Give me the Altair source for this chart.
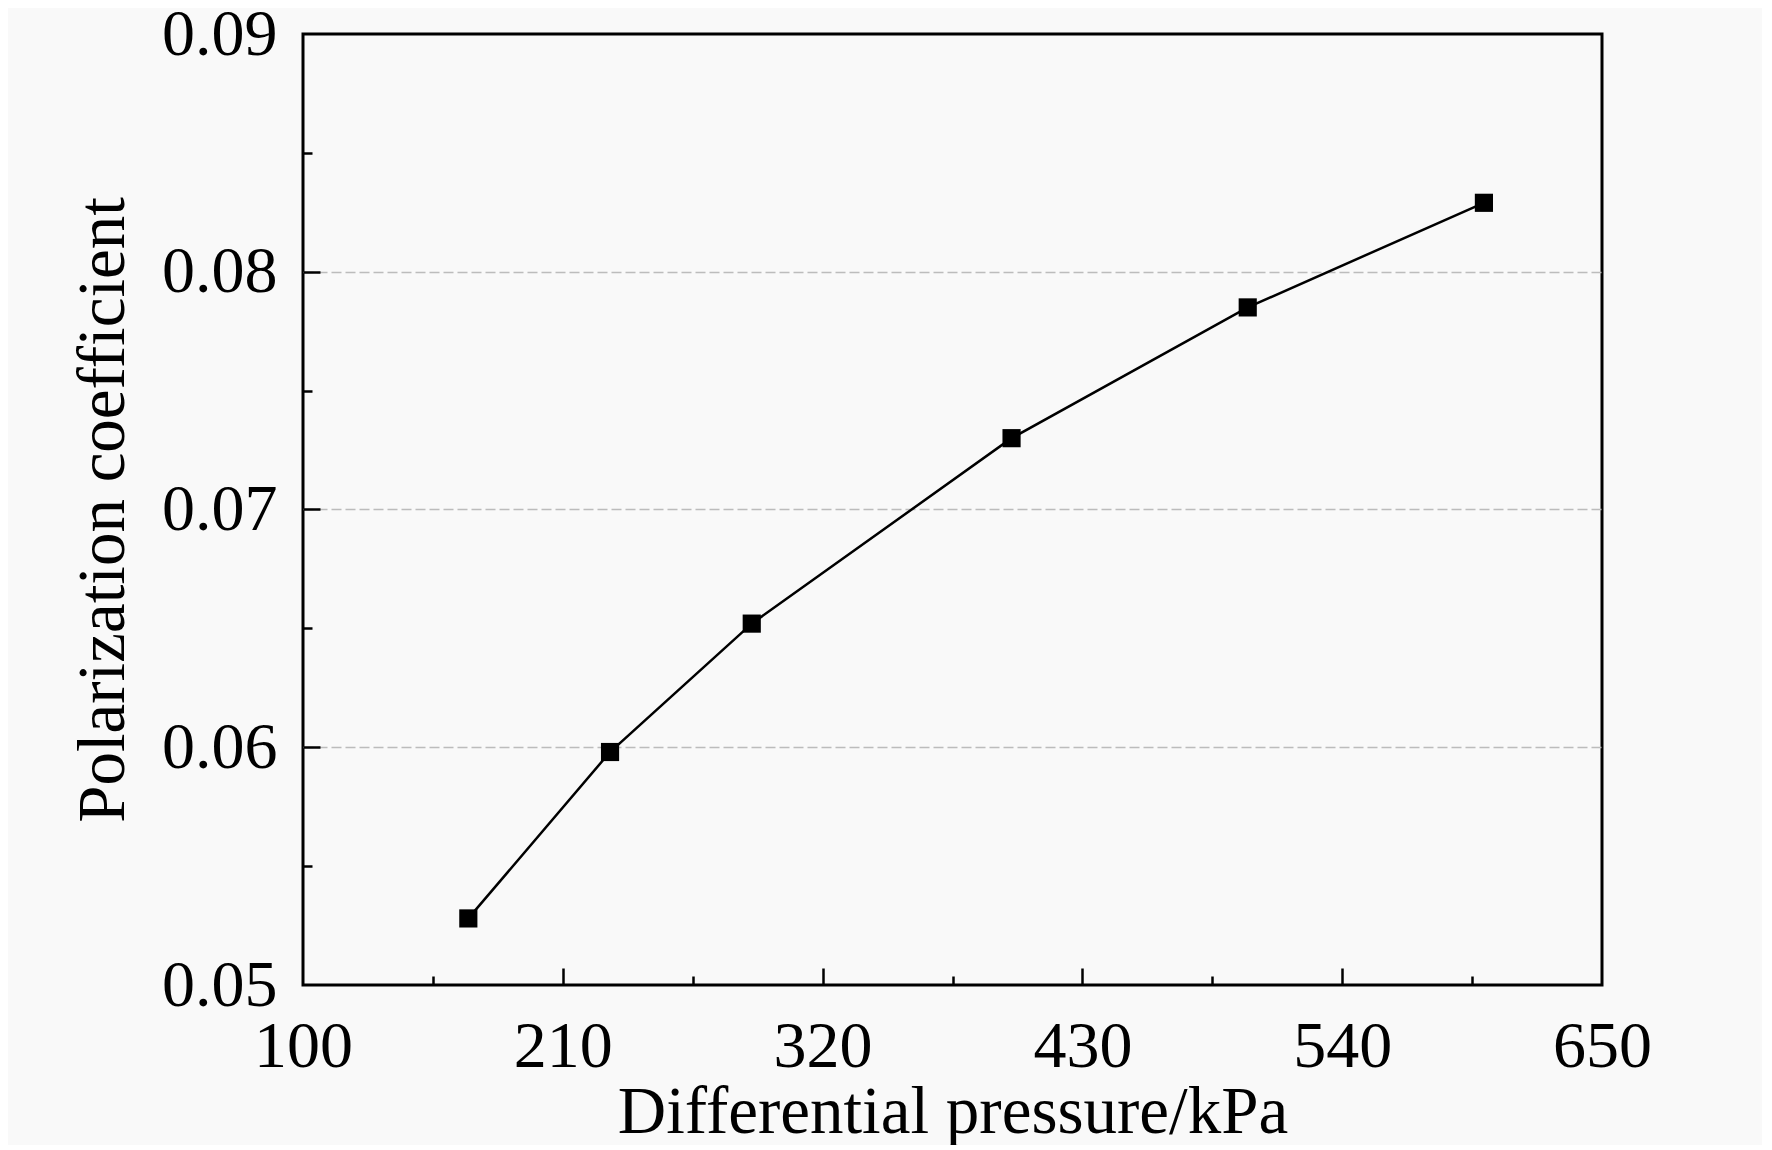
import altair as alt
import pandas as pd

# Data
pressure = [170, 230, 290, 400, 500, 600]
coef = [0.0528, 0.0598, 0.0652, 0.0730, 0.0785, 0.0829]

# Tick values
x_labels = [100, 210, 320, 430, 540, 650]
x_major = [210, 320, 430, 540]
x_minor = [155, 265, 375, 485, 595]
y_labels = [0.05, 0.06, 0.07, 0.08, 0.09]
y_major = [0.06, 0.07, 0.08]
y_minor = [0.055, 0.065, 0.075, 0.085]

df = pd.DataFrame({"p": pressure, "c": coef})

FONT = "Liberation Serif"
xs = alt.Scale(domain=[100, 650], nice=False, zero=False)
ys = alt.Scale(domain=[0.05, 0.09], nice=False, zero=False)

base = alt.Chart(df)

line = base.mark_line(color="black", strokeWidth=2.5).encode(
    x=alt.X("p:Q", scale=xs, title="Differential pressure/kPa",
            axis=alt.Axis(orient="bottom", values=x_labels, ticks=False, grid=False,
                          domain=False, labelFont=FONT, labelFontSize=66,
                          labelColor="black", labelPadding=29, labelFlush=False,
                          labelOverlap=False, titleFont=FONT, titleFontSize=67,
                          titleFontWeight="normal", titleColor="black",
                          titlePadding=0)),
    y=alt.Y("c:Q", scale=ys, title="Polarization coefficient",
            axis=alt.Axis(orient="left", values=y_labels, format=".2f", ticks=False,
                          grid=False, domain=False, labelFont=FONT, labelFontSize=66,
                          labelColor="black", labelPadding=26, labelFlush=False,
                          labelOverlap=False, titleFont=FONT, titleFontSize=67,
                          titleFontWeight="normal", titleColor="black",
                          titlePadding=24)),
)

points = base.mark_square(size=330, color="black", opacity=1).encode(
    x=alt.X("p:Q", scale=xs, title=None,
            axis=alt.Axis(orient="bottom", values=x_major, labels=False, domain=False,
                          grid=False, ticks=True, tickSize=17, tickWidth=2.5,
                          tickColor="black", offset=-17)),
    y=alt.Y("c:Q", scale=ys, title=None,
            axis=alt.Axis(orient="left", values=y_major, labels=False, domain=False,
                          grid=True, gridColor="#bcbcbc", gridDash=[10, 4],
                          gridWidth=1.5, ticks=True, tickSize=17, tickWidth=2.5,
                          tickColor="black", offset=-17)),
)

minor = base.mark_square(size=1, opacity=0).encode(
    x=alt.X("p:Q", scale=xs, title=None,
            axis=alt.Axis(orient="bottom", values=x_minor, labels=False, domain=False,
                          grid=False, ticks=True, tickSize=9, tickWidth=2.5,
                          tickColor="black", offset=-9)),
    y=alt.Y("c:Q", scale=ys, title=None,
            axis=alt.Axis(orient="left", values=y_minor, labels=False, domain=False,
                          grid=False, ticks=True, tickSize=9, tickWidth=2.5,
                          tickColor="black", offset=-9)),
)

chart = alt.layer(line, points, minor).resolve_axis(
    x="independent", y="independent"
).properties(
    width=1299, height=951,
    autosize=alt.AutoSizeParams(type="none"),
    padding={"left": 295, "top": 26, "right": 160, "bottom": 160},
    background="#f9f9f9",
).configure_view(stroke="black", strokeWidth=3)

chart.save("out.html", embed_options={"renderer": "svg", "actions": False})
